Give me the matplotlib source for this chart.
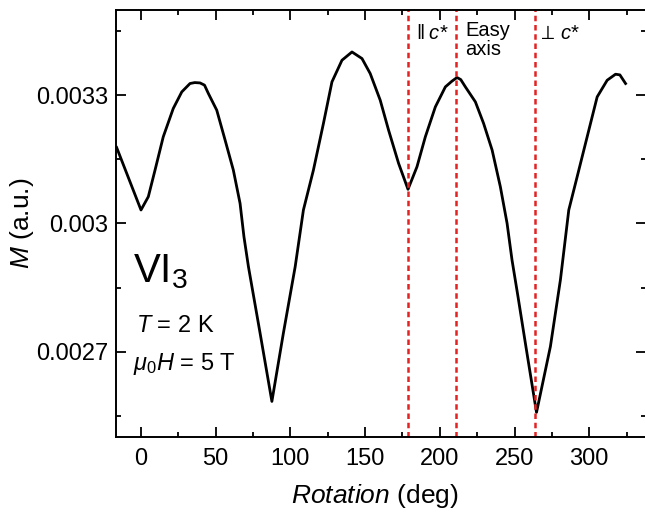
import matplotlib
matplotlib.use("Agg")

import matplotlib.pyplot as plt
from matplotlib.ticker import FixedLocator, MultipleLocator, FormatStrFormatter

plt.rcParams["font.family"] = ["Liberation Sans", "DejaVu Sans"]
plt.rcParams["mathtext.fontset"] = "custom"
plt.rcParams["mathtext.rm"] = "Liberation Sans"
plt.rcParams["mathtext.it"] = "Liberation Sans:italic"
plt.rcParams["mathtext.fallback"] = "stixsans"

# angle-dependent magnetization
rotation_deg = [-16.3, 0.0, 4.9, 9.4, 14.9, 21.6, 27.3, 32.8, 36.0, 39.5, 42.5, 45.1,
                50.7, 56.3, 61.8, 66.3, 68.9, 71.9, 79.7, 87.6, 95.3, 103.2,
                108.7, 115.4, 122.1, 127.8, 134.5, 141.2, 147.9, 153.4, 160.1, 165.7,
                172.4, 178.7, 184.7, 190.3, 197.0, 203.7, 208.0, 211.5, 214.0, 217.1,
                223.8, 229.3, 235.0, 240.5, 245.0, 248.3, 252.3, 257.6, 264.7, 274.0,
                280.7, 286.3, 291.9, 298.6, 305.3, 312.0, 317.6, 320.5, 324.3]
magnetization = [0.003178, 0.0030316, 0.0030627, 0.0031251, 0.003203, 0.0032694, 0.0033082,
                 0.0033278, 0.0033300, 0.0033292, 0.0033240, 0.0033044, 0.0032654, 0.0031952,
                 0.0031251, 0.0030472, 0.0029691, 0.002899, 0.0027433, 0.0025833, 0.0027433,
                 0.002899, 0.0030316, 0.0031251, 0.0032343, 0.0033316, 0.0033823, 0.0034017,
                 0.0033863, 0.0033512, 0.0032888, 0.0032186, 0.0031408, 0.00308, 0.0031328,
                 0.003203, 0.0032731, 0.0033199, 0.0033330, 0.0033419, 0.0033370, 0.0033199,
                 0.0032848, 0.0032343, 0.0031719, 0.0030861, 0.0030005, 0.0029147, 0.0028289,
                 0.0027119, 0.0025576, 0.0027119, 0.002868, 0.0030316, 0.0031094, 0.003203,
                 0.0032965, 0.0033355, 0.0033496, 0.0033480, 0.0033278]

marker_angles = [179.0, 211.0, 264.0]
marker_labels = [r"$\Vert\;c$*", "Easy\naxis", r"$\perp\,c$*"]

y_major = [0.0027, 0.0030, 0.0033]
y_minor = [0.00255, 0.00285, 0.00315, 0.00345]

fig = plt.figure(figsize=(6.45, 5.12), dpi=100)
ax = fig.add_axes([0.1806, 0.1465, 0.821, 0.834])

ax.plot(rotation_deg, magnetization, color="black", linewidth=2.0,
        solid_joinstyle="round")
for xv in marker_angles:
    ax.axvline(xv, color="#e42222", linewidth=1.8, linestyle=(0, (2.2, 1.5)))

ax.set_xlim(-16.4, 338)
ax.set_ylim(0.0025, 0.0035)
ax.xaxis.set_major_locator(MultipleLocator(50))
ax.xaxis.set_minor_locator(MultipleLocator(25))
ax.yaxis.set_major_locator(FixedLocator(y_major))
ax.yaxis.set_minor_locator(FixedLocator(y_minor))
ax.yaxis.set_major_formatter(FormatStrFormatter("%g"))
ax.tick_params(which="both", direction="in", top=True, right=True, width=1.3,
               labelsize=17)
ax.tick_params(axis="x", pad=8)
ax.tick_params(axis="y", pad=6)
ax.tick_params(which="major", length=7)
ax.tick_params(which="minor", length=3.5)
for s in ax.spines.values():
    s.set_linewidth(1.4)

ax.set_xlabel("$Rotation$ (deg)", fontsize=19)
ax.set_ylabel("$M$ (a.u.)", fontsize=19)
ax.xaxis.set_label_coords(0.488, -0.138)
ax.xaxis.label.set_va("center")
ax.yaxis.set_label_coords(-0.178, 0.5)
ax.yaxis.label.set_va("center")

# annotations
ax.text(0.031, 0.363, "VI$_3$", transform=ax.transAxes, fontsize=29, va="baseline")
ax.text(0.036, 0.246, "$T$ = 2 K", transform=ax.transAxes, fontsize=17, va="baseline")
ax.text(0.031, 0.157, r"$\mu_{0}H$ = 5 T", transform=ax.transAxes, fontsize=17, va="baseline")

ax.text(0.566, 0.946, marker_labels[0], transform=ax.transAxes, fontsize=14.5, va="center")
ax.text(0.659, 0.975, marker_labels[1], transform=ax.transAxes, fontsize=14.5, va="top",
        linespacing=1.0)
ax.text(0.795, 0.946, marker_labels[2], transform=ax.transAxes, fontsize=14.5, va="center")

fig.savefig("out.png", dpi=100)
